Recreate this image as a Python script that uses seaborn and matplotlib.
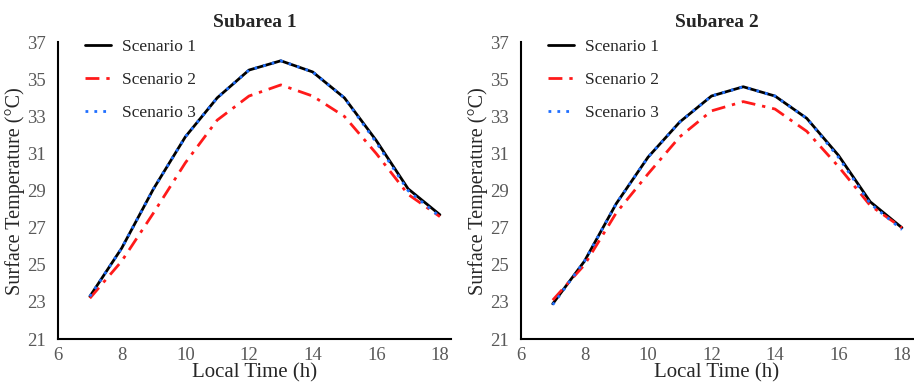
import numpy as np
import pandas as pd
import seaborn as sns
from matplotlib import pyplot as plt

hours = [7, 8, 9, 10, 11, 12, 13, 14, 15, 16, 17, 18]

# Subarea 1
sub1_s1 = [23.3, 25.9, 29.1, 31.9, 34.0, 35.5, 36.0, 35.4, 34.0, 31.7, 29.1, 27.7]
sub1_s2 = [23.2, 25.2, 27.8, 30.5, 32.8, 34.1, 34.7, 34.1, 33.0, 31.0, 28.8, 27.6]
sub1_s3 = [23.3, 25.9, 29.1, 31.9, 34.0, 35.5, 36.0, 35.4, 34.0, 31.6, 29.0, 27.6]

# Subarea 2
sub2_s1 = [22.9, 25.2, 28.3, 30.8, 32.7, 34.1, 34.6, 34.1, 32.9, 30.9, 28.4, 27.0]
sub2_s2 = [23.1, 25.0, 27.8, 29.9, 31.9, 33.3, 33.8, 33.4, 32.2, 30.3, 28.2, 27.0]
sub2_s3 = [22.85, 25.2, 28.3, 30.8, 32.7, 34.1, 34.6, 34.1, 32.9, 30.8, 28.3, 26.9]

scenarios = ['Scenario 1', 'Scenario 2', 'Scenario 3']
titles = ['Subarea 1', 'Subarea 2']
y_ticks = [21, 23, 25, 27, 29, 31, 33, 35, 37]
x_ticks = [6, 8, 10, 12, 14, 16, 18]

colors = {'Scenario 1': 'black', 'Scenario 2': '#ff1a1a', 'Scenario 3': '#1f6fff'}
dashes = {'Scenario 1': '', 'Scenario 2': (5, 2.5, 1.2, 2.5), 'Scenario 3': (1, 2.2)}


def make_df(s1, s2, s3):
    rows = []
    for name, vals in zip(scenarios, [s1, s2, s3]):
        for h, v in zip(hours, vals):
            rows.append({'hour': h, 'temp': v, 'scenario': name})
    return pd.DataFrame(rows)


sns.set_style('white')
plt.rcParams['font.family'] = ['Liberation Serif', 'DejaVu Serif']

fig = plt.figure(figsize=(9.14, 3.84), dpi=100)
ax1 = fig.add_axes([0.0635, 0.117, 0.430, 0.773])
ax2 = fig.add_axes([0.570, 0.117, 0.429, 0.773])

data = [make_df(sub1_s1, sub1_s2, sub1_s3), make_df(sub2_s1, sub2_s2, sub2_s3)]

for ax, df, title in zip([ax1, ax2], data, titles):
    sns.lineplot(data=df, x='hour', y='temp', hue='scenario', style='scenario',
                 palette=colors, dashes=dashes, hue_order=scenarios,
                 style_order=scenarios, linewidth=2, ax=ax)
    ax.set_xlim(6, 18.35)
    ax.set_ylim(21, 37)
    ax.set_xticks(x_ticks)
    ax.set_yticks(y_ticks)
    ax.tick_params(axis='both', labelsize=13.5, colors='#595959', length=0)
    ax.tick_params(axis='y', pad=9)
    ax.tick_params(axis='x', pad=6)
    ax.set_xlabel('Local Time (h)', fontsize=15, labelpad=-1)
    ax.set_ylabel('Surface Temperature (°C)', fontsize=14.5, labelpad=1)
    ax.set_title(title, fontsize=14, fontweight='bold', pad=11)
    for side in ['top', 'right']:
        ax.spines[side].set_visible(False)
    for side in ['left', 'bottom']:
        ax.spines[side].set_color('black')
        ax.spines[side].set_linewidth(1.5)
    leg = ax.legend(loc='upper left', bbox_to_anchor=(0.03, 1.065), frameon=False,
                    fontsize=12.5, handlelength=1.5, labelspacing=0.98,
                    handletextpad=0.6)
    for line in leg.get_lines():
        line.set_linewidth(2)

fig.savefig('out.png', dpi=100)
